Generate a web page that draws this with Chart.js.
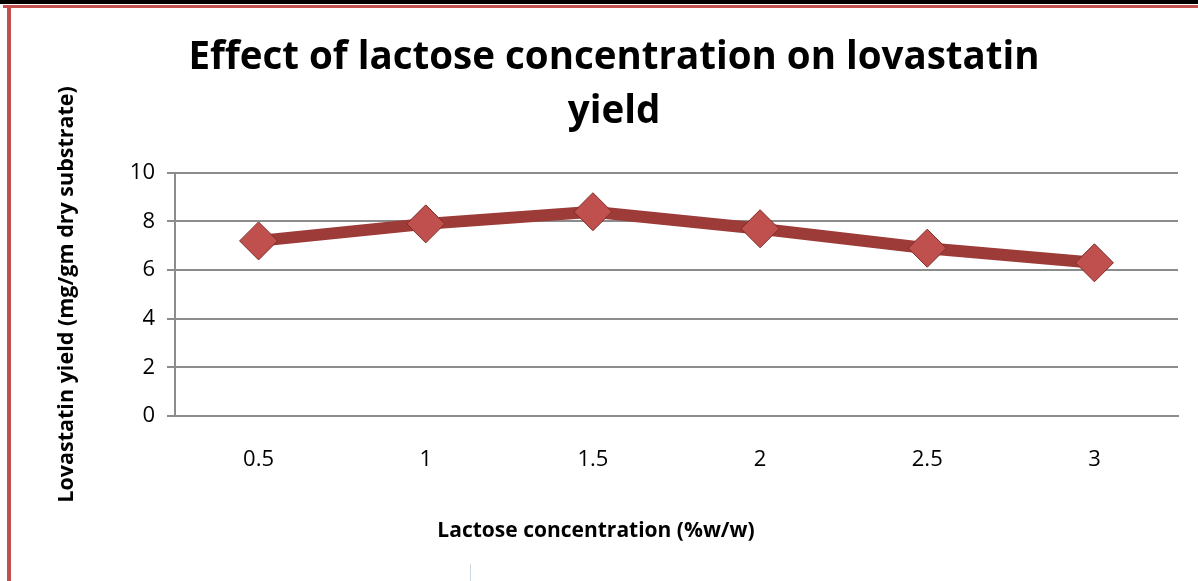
<!DOCTYPE html>
<html>
<head>
<meta charset="utf-8">
<script src="https://cdn.jsdelivr.net/npm/chart.js@4"></script>
<style>
  body { margin: 0; background: #fff; overflow: hidden; }
  #wrap { position: relative; width: 1198px; height: 581px; }
  #topband { position: absolute; left: 0; top: 0; width: 1198px; height: 4px; background: #000; }
  #topred { position: absolute; left: 3px; top: 5px; width: 1195px; height: 3px; background: #c0504d; }
  #leftred { position: absolute; left: 7px; top: 7px; width: 4px; height: 574px; background: #c0504d; }
  #tick { position: absolute; left: 470px; top: 564px; width: 1px; height: 17px; background: #cfd8e3; }
  canvas { position: absolute; left: 0; top: 0; }
</style>
</head>
<body>
<div id="wrap">
  <canvas id="chart" width="1198" height="581"></canvas>
  <div id="topband"></div>
  <div id="topred"></div>
  <div id="leftred"></div>
  <div id="tick"></div>
</div>
<script>
const concentrations = ['0.5', '1', '1.5', '2', '2.5', '3'];
const lovastatinYield = [7.2, 7.9, 8.4, 7.7, 6.9, 6.3];
const yTicks = [0, 2, 4, 6, 8, 10];
const xTitle = 'Lactose concentration (%w/w)';

const fontFamily = '"Open Sans", "DejaVu Sans", sans-serif';

// x axis title sits left of the plot centre in the original, so draw it by hand
const xTitlePlugin = {
    id: 'xTitle',
    afterDraw(chart) {
        const c = chart.ctx;
        c.save();
        c.font = 'bold 21px ' + fontFamily;
        c.fillStyle = '#000';
        c.textAlign = 'center';
        c.textBaseline = 'middle';
        c.fillText(xTitle, 596, 531);
        c.restore();
    }
};

const ctx = document.getElementById('chart').getContext('2d');
new Chart(ctx, {
    type: 'line',
    data: {
        labels: concentrations,
        datasets: [{
            label: 'Lovastatin yield',
            data: lovastatinYield,
            borderColor: '#9c3b38',
            borderWidth: 12,
            pointStyle: 'rectRot',
            pointRadius: 19,
            pointBackgroundColor: '#c0504d',
            pointBorderColor: '#7f2a27',
            pointBorderWidth: 1,
            fill: false,
            tension: 0
        }]
    },
    options: {
        responsive: false,
        animation: false,
        events: [],
        layout: { padding: { left: 50, right: 20, top: 0, bottom: 35 } },
        plugins: {
            legend: { display: false },
            tooltip: { enabled: false },
            title: {
                display: true,
                text: ['Effect of lactose concentration on lovastatin', 'yield'],
                color: '#000',
                font: { family: fontFamily, size: 38.5, weight: 'bold', lineHeight: 1.4 },
                padding: { top: 31, bottom: 34 }
            }
        },
        scales: {
            x: {
                offset: true,
                grid: { display: false, drawTicks: false },
                border: { color: '#8c8c8c', width: 2 },
                ticks: { color: '#000', font: { family: fontFamily, size: 22 }, padding: 31 },
                afterFit: function (scale) { scale.height = 130; }
            },
            y: {
                min: 0,
                max: 10,
                afterBuildTicks: function (scale) {
                    scale.ticks = yTicks.map(v => ({ value: v }));
                },
                grid: { color: '#8c8c8c', lineWidth: 2, tickLength: 8 },
                border: { color: '#8c8c8c', width: 2 },
                ticks: { color: '#000', font: { family: fontFamily, size: 22 }, padding: 12 },
                title: {
                    display: true,
                    text: 'Lovastatin yield (mg/gm dry substrate)',
                    color: '#000',
                    font: { family: fontFamily, size: 21.5, weight: 'bold' },
                    padding: { top: 4, bottom: 4 }
                },
                afterFit: function (scale) { scale.width = 125; }
            }
        }
    },
    plugins: [xTitlePlugin]
});
</script>
</body>
</html>
